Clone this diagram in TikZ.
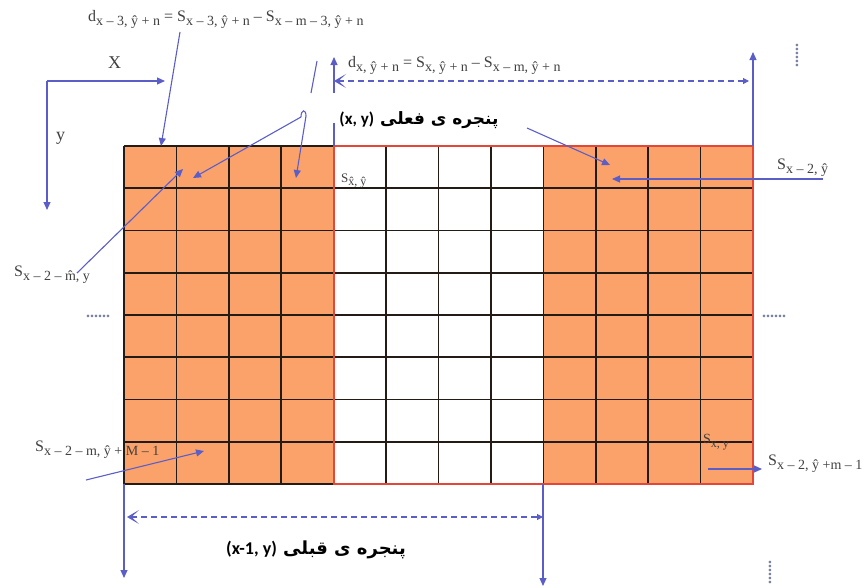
\documentclass[tikz,border=0pt]{standalone}
\usepackage{fontspec}
\setmainfont{Liberation Serif}
\newfontfamily\arabicfont[Script=Arabic]{DejaVu Sans}
\newfontfamily\calib{Carlito}
\TeXXeTstate=1
\usetikzlibrary{arrows.meta}
\definecolor{orng}{RGB}{250,162,106}
\definecolor{blu}{RGB}{92,94,200}
\definecolor{redb}{RGB}{228,70,55}
\definecolor{gridc}{RGB}{35,28,22}
\definecolor{dotc}{RGB}{120,130,165}
\newcommand\ssub[2][14]{\raisebox{-0.3em}{\fontsize{#1}{#1}\selectfont #2}}
\begin{document}
\begin{tikzpicture}[x=1pt,y=-1pt,
 lbl/.style={inner sep=0pt, font=\fontsize{16}{18}\selectfont, text=black!75},
 conn/.style={blu, line width=1.1pt, -{Triangle[length=8pt,width=7pt]}},
 plain/.style={blu, line width=1.1pt},
 dim/.style={blu, line width=1.1pt, dash pattern=on 6pt off 4pt, {Stealth[length=12pt,width=14pt,inset=7.5pt]}-{Triangle[length=6pt,width=6pt]}},
 persian/.style={inner sep=0pt, font=\fontsize{17}{20}\selectfont\bfseries},
 dotsty/.style={inner sep=0pt, text=dotc, font=\fontsize{16}{16}\selectfont\bfseries},
 gline/.style={gridc, line width=1.6pt}
]
\useasboundingbox (0,0) rectangle (865,587);
% grid
\fill[orng] (124,146) rectangle (334,484);
\fill[orng] (543,146) rectangle (753,484);
\foreach \i in {0,...,12} \draw[gline] ({124+\i*629/12},146) -- ({124+\i*629/12},484);
\foreach \j in {0,...,8} \draw[gline] (124,{146+\j*338/8}) -- (753,{146+\j*338/8});
\draw[redb, line width=1.3pt] (334,146) rectangle (753,484);

% labels
\node[lbl, anchor=base west] (dA) at (88,21) {d\ssub{x – 3, ŷ + n} = S\ssub{x – 3, ŷ + n} – S\ssub{x – m – 3, ŷ + n}};
\node[lbl, anchor=base west] (dB) at (348,67) {d\ssub{x, ŷ + n} = S\ssub{x, ŷ + n} – S\ssub{x – m, ŷ + n}};
\node[lbl, anchor=base west, font=\fontsize{18}{20}\selectfont] (lx) at (108,68) {X};
\node[lbl, anchor=base west, font=\fontsize{18}{20}\selectfont] (ly) at (56,140) {y};
\node[lbl, anchor=base west] (s1) at (777,169) {S\ssub{x – 2, ŷ}};
\node[lbl, anchor=base west] (s2) at (14,276) {S\ssub{x – 2 – \^{m}, y}};
\node[lbl, anchor=base west] (s3) at (35,451) {S\ssub{x – 2 – m, ŷ + M – 1}};
\node[lbl, anchor=base west, font=\fontsize{14}{16}\selectfont] (s4) at (703,443) {S\ssub[12]{x, y}};
\node[lbl, anchor=base west] (s5) at (768,465) {S\ssub{x – 2, ŷ +m – 1}};
\node[lbl, anchor=base west, font=\fontsize{13}{15}\selectfont] (s6) at (341,182) {S\ssub[12]{\^{x}, ŷ}};
\node[persian] (cur) at (419,120) {\arabicfont\beginR پنجره ی فعلی {\calib\bfseries\beginL(x, y)\endL}\endR};
\node[persian, font=\fontsize{18}{21}\selectfont\bfseries] (prev) at (316,550) {\arabicfont\beginR پنجره ی قبلی {\calib\bfseries\beginL(x-1, y)\endL}\endR};
\node[dotsty] (dl) at (98,316) {......};
\node[dotsty] (dr) at (774,316) {......};
\node[dotsty, rotate=90] (dt) at (797,55) {......};
\node[dotsty, rotate=90] (db) at (770,572) {......};

% coordinates
\coordinate (ax) at (47,81);
\coordinate (axX) at (165,81);
\coordinate (axY) at (47,210);
\coordinate (a1s) at (180,32);
\coordinate (a1e) at (161,146);
\coordinate (sl1) at (317,61);
\coordinate (sl2) at (311,93);
\coordinate (hk1) at (301,117);
\coordinate (hk2) at (306,116);
\coordinate (c1) at (193,178);
\coordinate (c3) at (296,178);
\coordinate (r1s) at (527,128);
\coordinate (r1e) at (610,165);
\coordinate (r2s) at (823,179);
\coordinate (r2e) at (612,179);
\coordinate (l1s) at (77,273);
\coordinate (l1e) at (183,169);
\coordinate (l2s) at (86,480);
\coordinate (l2e) at (204,451);
\coordinate (b1s) at (708,469);
\coordinate (b1e) at (762,469);
\coordinate (v1a) at (334,146);
\coordinate (v1b) at (334,123);
\coordinate (v1c) at (334,93);
\coordinate (v1d) at (334,57);
\coordinate (v2a) at (753,146);
\coordinate (v2b) at (753,52);
\coordinate (tdl) at (334,81);
\coordinate (tdr) at (749,81);
\coordinate (bv1a) at (124,484);
\coordinate (bv1b) at (124,578);
\coordinate (bv2a) at (543,484);
\coordinate (bv2b) at (543,586);
\coordinate (bdl) at (127,517);
\coordinate (bdr) at (543,517);

% connectors
\draw[conn] (ax) -- (axX);
\draw[conn] (ax) -- (axY);
\draw[conn] (a1s) -- (a1e);
\draw[plain] (sl1) -- (sl2);
\draw[plain] (hk1) .. controls (301,109) and (306,109) .. (hk2);
\draw[conn] (hk1) -- (c1);
\draw[conn] (hk2) -- (c3);
\draw[conn] (r1s) -- (r1e);
\draw[conn] (r2s) -- (r2e);
\draw[conn] (l1s) -- (l1e);
\draw[conn] (l2s) -- (l2e);
\draw[conn] (b1s) -- (b1e);
\draw[plain] (v1a) -- (v1b);
\draw[conn] (v1c) -- (v1d);
\draw[conn] (v2a) -- (v2b);
\draw[dim] (tdl) -- (tdr);
\draw[conn] (bv1a) -- (bv1b);
\draw[conn] (bv2a) -- (bv2b);
\draw[dim] (bdl) -- (bdr);
\end{tikzpicture}
\end{document}
